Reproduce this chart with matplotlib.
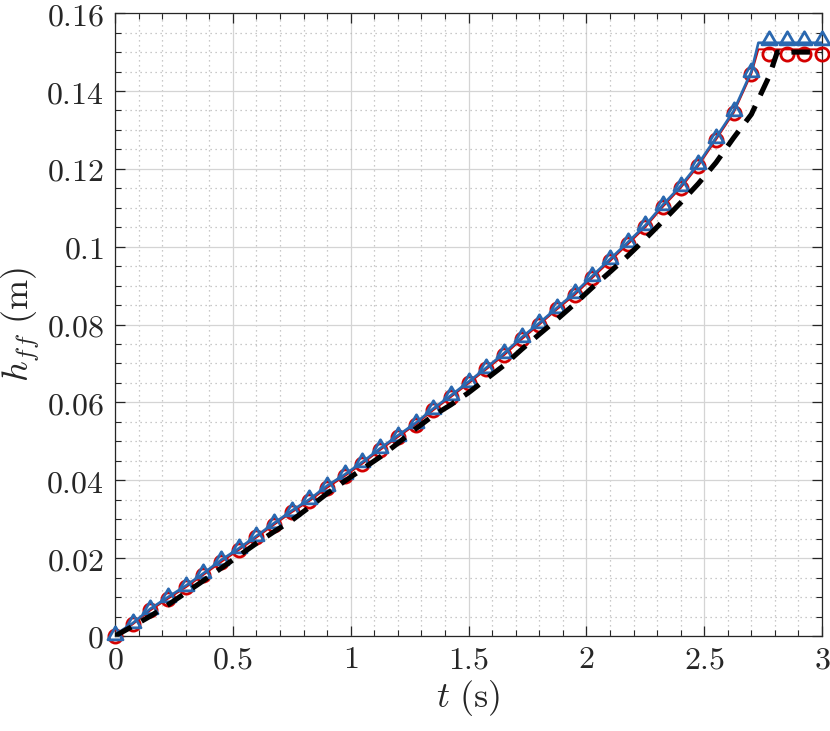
import matplotlib
matplotlib.use("Agg")
import matplotlib.pyplot as plt
from matplotlib.path import Path
from matplotlib.ticker import MultipleLocator, FixedLocator, FixedFormatter

plt.rcParams['mathtext.fontset'] = 'cm'
plt.rcParams['font.family'] = ['DejaVu Serif']

# ---------------- data ----------------
t_mark = [0.0, 0.075, 0.15, 0.225, 0.3, 0.375, 0.45, 0.525, 0.6, 0.675,
          0.75, 0.825, 0.9, 0.975, 1.05, 1.125, 1.2, 1.275, 1.35, 1.425,
          1.5, 1.575, 1.65, 1.725, 1.8, 1.875, 1.95, 2.025, 2.1, 2.175,
          2.25, 2.325, 2.4, 2.475, 2.55, 2.625, 2.7, 2.775, 2.85, 2.925, 3.0]

blue_mark = [0.0003, 0.0033, 0.0070, 0.0100, 0.0129, 0.0161, 0.0195, 0.0225, 0.0257, 0.0290,
             0.0322, 0.0351, 0.0386, 0.0415, 0.0447, 0.0482, 0.0515, 0.0547, 0.0584, 0.0618,
             0.0653, 0.0689, 0.0726, 0.0767, 0.0804, 0.0843, 0.0881, 0.0925, 0.0968, 0.1011,
             0.1055, 0.1108, 0.1156, 0.1213, 0.1280, 0.1349, 0.1450, 0.1531, 0.1531, 0.1531, 0.1531]

red_mark = [0.0000, 0.0030, 0.0066, 0.0096, 0.0125, 0.0157, 0.0190, 0.0221, 0.0253, 0.0286,
            0.0318, 0.0347, 0.0381, 0.0411, 0.0443, 0.0478, 0.0511, 0.0543, 0.0580, 0.0614,
            0.0649, 0.0685, 0.0721, 0.0762, 0.0800, 0.0839, 0.0876, 0.0920, 0.0963, 0.1006,
            0.1050, 0.1103, 0.1151, 0.1208, 0.1275, 0.1344, 0.1444, 0.1494, 0.1494, 0.1494, 0.1494]

# line tails (lines saturate slightly after t = 2.7)
t_tail = [2.73, 3.0]
blue_tail = [0.1524, 0.1524]
red_tail = [0.1507, 0.1507]

t_ref = [0.0, 0.075, 0.15, 0.225, 0.3, 0.375, 0.45, 0.525, 0.6, 0.675,
         0.75, 0.825, 0.9, 0.975, 1.05, 1.125, 1.2, 1.275, 1.35, 1.425,
         1.5, 1.575, 1.65, 1.725, 1.8, 1.875, 1.95, 2.025, 2.1, 2.175,
         2.25, 2.325, 2.4, 2.475, 2.55, 2.625, 2.7, 2.775, 2.81, 3.0]
h_ref = [0.0000, 0.0025, 0.0051, 0.0080, 0.0111, 0.0142, 0.0174, 0.0206, 0.0238, 0.0268,
         0.0297, 0.0331, 0.0366, 0.0398, 0.0429, 0.0460, 0.0495, 0.0532, 0.0566, 0.0594,
         0.0625, 0.0660, 0.0695, 0.0736, 0.0775, 0.0813, 0.0853, 0.0895, 0.0935, 0.0976,
         0.1020, 0.1066, 0.1113, 0.1162, 0.1216, 0.1280, 0.1340, 0.1437, 0.1500, 0.1500]

x_ticks = [0, 0.5, 1, 1.5, 2, 2.5, 3]
x_ticklabels = ['0', '0.5', '1', '1.5', '2', '2.5', '3']
y_ticks = [0, 0.02, 0.04, 0.06, 0.08, 0.1, 0.12, 0.14, 0.16]
y_ticklabels = ['0', '0.02', '0.04', '0.06', '0.08', '0.1', '0.12', '0.14', '0.16']

# ---------------- style ----------------
RED = '#d40000'
BLUE = '#2a68b0'
AXC = '#262626'

tri = Path([(0, 1), (-0.866, -0.5), (0.866, -0.5), (0, 1)],
           [Path.MOVETO, Path.LINETO, Path.LINETO, Path.CLOSEPOLY])

fig = plt.figure(figsize=(8.30, 7.31), dpi=100)
ax = fig.add_axes([0.1386, 0.130, 0.8518, 0.852])

n_line = 37  # marker points up to t = 2.7 used by the solid lines
ax.plot(t_mark[:n_line] + t_tail, red_mark[:n_line] + red_tail, color=RED, lw=1.4, zorder=3)
ax.plot(t_mark, red_mark, ls='none', marker='o', ms=9.5, mfc='none', mec=RED, mew=2.0,
        zorder=3, clip_on=False)
ax.plot(t_mark[:n_line] + t_tail, blue_mark[:n_line] + blue_tail, color=BLUE, lw=1.9, zorder=4)
ax.plot(t_mark, blue_mark, ls='none', marker=tri, ms=12.5, mfc='none', mec=BLUE, mew=2.0,
        zorder=4, clip_on=False)
ax.plot(t_ref, h_ref, color='black', lw=3.7, dashes=(3.6, 2.3), dash_capstyle='butt', zorder=5)

ax.set_xlim(0, 3)
ax.set_ylim(0, 0.16)

ax.xaxis.set_major_locator(FixedLocator(x_ticks))
ax.xaxis.set_major_formatter(FixedFormatter(['$' + s + '$' for s in x_ticklabels]))
ax.yaxis.set_major_locator(FixedLocator(y_ticks))
ax.yaxis.set_major_formatter(FixedFormatter(['$' + s + '$' for s in y_ticklabels]))
ax.xaxis.set_minor_locator(MultipleLocator(0.1))
ax.yaxis.set_minor_locator(MultipleLocator(0.005))

ax.grid(True, which='major', color='#d4d4d4', lw=0.9, ls='-', zorder=0)
ax.grid(True, which='minor', color='#b8b8b8', lw=0.9, ls=(0, (1, 3)), zorder=0)
ax.set_axisbelow(True)

ax.tick_params(which='both', direction='in', top=True, right=True, colors=AXC)
ax.tick_params(which='major', length=7, width=0.9, labelsize=23)
ax.tick_params(axis='x', which='major', pad=6)
ax.tick_params(axis='y', which='major', pad=8)
ax.tick_params(which='minor', length=4, width=0.8)
for s in ax.spines.values():
    s.set_color(AXC)
    s.set_linewidth(0.9)

ax.set_xlabel(r'$t\ \mathrm{(s)}$', fontsize=26, color=AXC)
ax.xaxis.set_label_coords(0.5, -0.068)
ax.set_ylabel(r'$h_{ff}\ \mathrm{(m)}$', fontsize=26, color=AXC, labelpad=3)

fig.savefig('out.png', dpi=100)
